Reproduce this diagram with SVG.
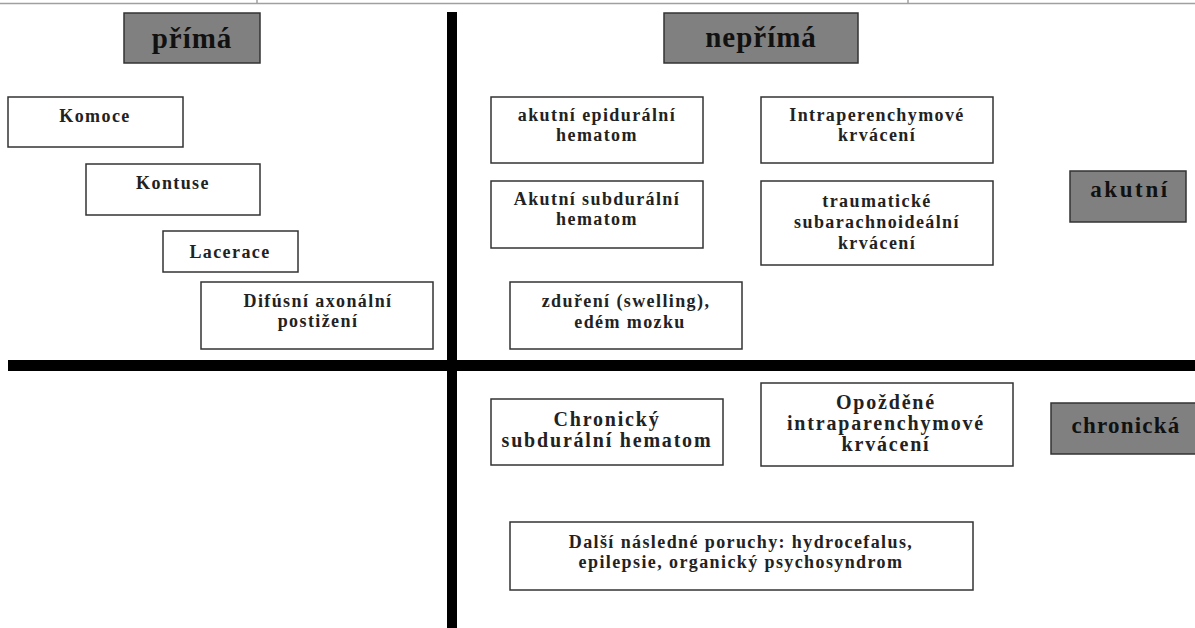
<svg xmlns="http://www.w3.org/2000/svg" width="1195" height="628" viewBox="0 0 1195 628">
<style>
.box{fill:#fff;stroke:#333;stroke-width:1.5}
.hdr{fill:#808080;stroke:#333;stroke-width:1.5}
.t{font-family:"Liberation Serif","Times New Roman",serif;font-weight:bold;font-size:18px;fill:#222;text-anchor:middle;letter-spacing:1.4px}
.tn{font-family:"Liberation Serif","Times New Roman",serif;font-weight:bold;font-size:20px;fill:#222;text-anchor:middle;letter-spacing:1.8px}
.h{font-family:"Liberation Serif","Times New Roman",serif;font-weight:bold;font-size:29px;fill:#111;text-anchor:middle;letter-spacing:1px}
.h2{font-family:"Liberation Serif","Times New Roman",serif;font-weight:bold;font-size:23px;fill:#111;text-anchor:middle;letter-spacing:1.2px}
</style>
<rect width="1195" height="628" fill="#fff"/>
<g id="frame">
<line x1="0" y1="3.5" x2="1195" y2="3.5" stroke="#a0a0a0" stroke-width="1.5"/>
<line x1="257" y1="0" x2="257" y2="3.5" stroke="#a0a0a0" stroke-width="1.5"/>
<line x1="908" y1="0" x2="908" y2="3.5" stroke="#a0a0a0" stroke-width="1.5"/>
</g>
<g id="connectors">
<rect x="447" y="12" width="10" height="616" fill="#000"/>
<rect x="8" y="360" width="1187" height="11" fill="#000"/>
</g>
<g id="n-prima"><rect class="hdr" x="124" y="13" width="136" height="50"/><text class="h" x="192" y="48">přímá</text></g>
<g id="n-neprima"><rect class="hdr" x="664" y="13" width="194" height="50"/><text class="h" x="761" y="47">nepřímá</text></g>
<g id="n-komoce"><rect class="box" x="8" y="97" width="175" height="50"/><text class="t" x="95" y="122">Komoce</text></g>
<g id="n-kontuse"><rect class="box" x="86" y="164" width="174" height="51"/><text class="t" x="173" y="189">Kontuse</text></g>
<g id="n-lacerace"><rect class="box" x="163" y="231" width="135" height="41"/><text class="t" x="230" y="258">Lacerace</text></g>
<g id="n-difusni"><rect class="box" x="201" y="282" width="232" height="67"/><text class="t" x="318" y="307">Difúsní axonální</text><text class="t" x="318" y="327">postižení</text></g>
<g id="n-epidural"><rect class="box" x="491" y="97" width="212" height="66"/><text class="t" x="597" y="121">akutní epidurální</text><text class="t" x="597" y="141">hematom</text></g>
<g id="n-intraper"><rect class="box" x="761" y="97" width="232" height="66"/><text class="t" x="877" y="121">Intraperenchymové</text><text class="t" x="877" y="141">krvácení</text></g>
<g id="n-subdural"><rect class="box" x="491" y="181" width="212" height="67"/><text class="t" x="597" y="205">Akutní subdurální</text><text class="t" x="597" y="225">hematom</text></g>
<g id="n-sah"><rect class="box" x="761" y="181" width="232" height="84"/><text class="t" x="877" y="207">traumatické</text><text class="t" x="877" y="228">subarachnoideální</text><text class="t" x="877" y="249">krvácení</text></g>
<g id="n-akutni"><rect class="hdr" x="1070" y="171" width="116" height="51"/><text class="h2" x="1130" y="197" style="letter-spacing:2.6px">akutní</text></g>
<g id="n-zdureni"><rect class="box" x="510" y="282" width="232" height="67"/><text class="t" x="626" y="307">zduření (swelling),</text><text class="t" x="630" y="328">edém mozku</text></g>
<g id="n-chronsdh"><rect class="box" x="491" y="399" width="232" height="66"/><text class="tn" x="607" y="426">Chronický</text><text class="tn" x="607" y="447">subdurální hematom</text></g>
<g id="n-opozdene"><rect class="box" x="761" y="383" width="252" height="83"/><text class="tn" x="886" y="409">Opožděné</text><text class="tn" x="886" y="430">intraparenchymové</text><text class="tn" x="886" y="451">krvácení</text></g>
<g id="n-chronicka"><rect class="hdr" x="1051" y="403" width="150" height="51"/><text class="h2" x="1126" y="433">chronická</text></g>
<g id="n-dalsi"><rect class="box" x="510" y="522" width="463" height="68"/><text class="t" x="741" y="548">Další následné poruchy: hydrocefalus,</text><text class="t" x="741" y="568">epilepsie, organický psychosyndrom</text></g>
</svg>
